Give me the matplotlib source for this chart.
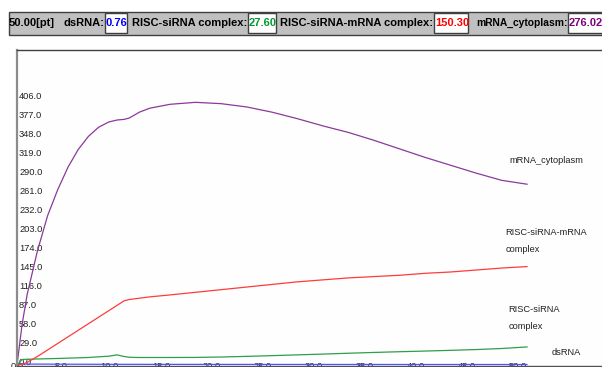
import matplotlib.pyplot as plt
from matplotlib.patches import Rectangle

plt.rcParams['font.family'] = ['Liberation Sans', 'DejaVu Sans']

# simulation time points and species amounts
time = [0, 0.5, 1, 2, 3, 4, 5, 6, 7, 8, 9, 9.8, 10.5, 11, 12, 13, 15, 17.5, 20,
        22.5, 25, 27.5, 30, 32.5, 35, 37.5, 40, 42.5, 45, 47.5, 50]

dsRNA = [1.6, 1.5, 1.45, 1.4, 1.35, 1.3, 1.25, 1.2, 1.15, 1.1, 1.08, 1.06, 1.05,
         1.04, 1.02, 1.0, 0.98, 0.96, 0.94, 0.92, 0.9, 0.88, 0.86, 0.84, 0.83,
         0.82, 0.8, 0.79, 0.78, 0.77, 0.76]
risc_sirna = [0, 8.5, 8.8, 9.2, 9.6, 10.0, 10.5, 11.0, 11.5, 12.5, 13.5, 15.5,
              13.0, 11.8, 11.5, 11.5, 11.5, 11.6, 12.2, 13.2, 14.3, 15.5, 16.7,
              18.0, 19.2, 20.3, 21.3, 22.4, 23.6, 25.2, 27.60]
risc_mrna = [0, 1, 4, 13, 23, 33, 43, 53, 63, 73, 83, 91, 98, 100, 102, 104,
             107, 111, 115, 119, 123, 127, 130, 133, 135, 137, 140, 142, 145,
             148, 150.30]
mrna_cyto = [0, 62, 108, 174, 228, 268, 302, 329, 349, 363, 371, 374, 375,
             377, 386, 392, 398, 401, 399, 394, 386, 376, 365, 355, 343, 330,
             317, 305, 293, 282, 276.02]

series = [
    ("dsRNA", dsRNA, '#5050ff', '#0000ff'),
    ("RISC-siRNA complex", risc_sirna, '#2e9e4a', '#009933'),
    ("RISC-siRNA-mRNA complex", risc_mrna, '#ff3b3b', '#ff0000'),
    ("mRNA_cytoplasm", mrna_cyto, '#8a3a9a', '#800080'),
]

yticks = [29.0 * i for i in range(15)]
xticks = [5.0 * i for i in range(11)]

fig = plt.figure(figsize=(6.02, 3.67), dpi=100)
fig.patch.set_facecolor('white')

# main plot
ax = fig.add_axes([17 / 602, 1 / 367, 585 / 602, 316 / 367])
ax.set_facecolor('#fefefe')
for name, vals, col, _ in series:
    ax.plot(time, vals, color=col, lw=0.9)

ax.set_xlim(0, 57.35)
ax.set_ylim(-1.5, 480.9)
ax.spines['right'].set_visible(False)
ax.spines['top'].set_color('#404040')
ax.spines['top'].set_linewidth(1.0)
ax.spines['left'].set_color('#8c8c8c')
ax.spines['left'].set_linewidth(1.6)
ax.spines['bottom'].set_color('#505050')
ax.spines['bottom'].set_linewidth(1.0)

ax.set_yticks(yticks)
ax.set_yticklabels(["%.1f" % v for v in yticks])
ax.tick_params(axis='y', length=0, pad=-1.5, labelsize=6.7, labelcolor='#222222')
plt.setp(ax.get_yticklabels(), ha='left', va='baseline')

ax.set_xticks(xticks)
ax.set_xticklabels(["%.1f" % v for v in xticks])
ax.tick_params(axis='x', length=0, pad=-2.9, labelsize=6.7, labelcolor='#222222')
plt.setp(ax.get_xticklabels(), ha='right')
ax.get_xticklabels()[0].set_horizontalalignment('center')

# species names next to the curve ends
txt = dict(fontsize=6.7, color='#222222', va='center', ha='left')
ax.text(48.3, 311.5, "mRNA_cytoplasm", **txt)
ax.text(47.9, 202, "RISC-siRNA-mRNA", **txt)
ax.text(47.9, 177, "complex", **txt)
ax.text(48.2, 84, "RISC-siRNA", **txt)
ax.text(48.2, 59.5, "complex", **txt)
ax.text(52.45, 18.8, "dsRNA", **txt)

# value bar across the top
hax = fig.add_axes([0, 1 - 40 / 367, 1, 40 / 367])
hax.set_xlim(0, 602)
hax.set_ylim(40, 0)
hax.axis('off')
hax.add_patch(Rectangle((8.5, 12), 600, 23, facecolor='#c0c0c0',
                        edgecolor='#404040', lw=1.0))
hax.text(9, 22.5, "%.2f[pt]" % time[-1], fontsize=8, fontweight='bold',
         ha='left', va='center')

boxes = [(105, 127), (248, 276), (434, 468), (568, 610)]
label_sizes = [8, 8, 8, 7.4]
for (name, vals, _, tcol), (x0, x1), fs in zip(series, boxes, label_sizes):
    hax.text(x0 - 0.5, 22.5, name + ":", fontsize=fs, fontweight='bold',
             ha='right', va='center')
    hax.add_patch(Rectangle((x0, 13), x1 - x0, 20, facecolor='white',
                            edgecolor='#404040', lw=1.0))
    hax.text(x0 + 1, 22.5, "%.2f" % vals[-1], fontsize=8, fontweight='bold',
             color=tcol, ha='left', va='center')

plt.savefig("out.png", dpi=100)
